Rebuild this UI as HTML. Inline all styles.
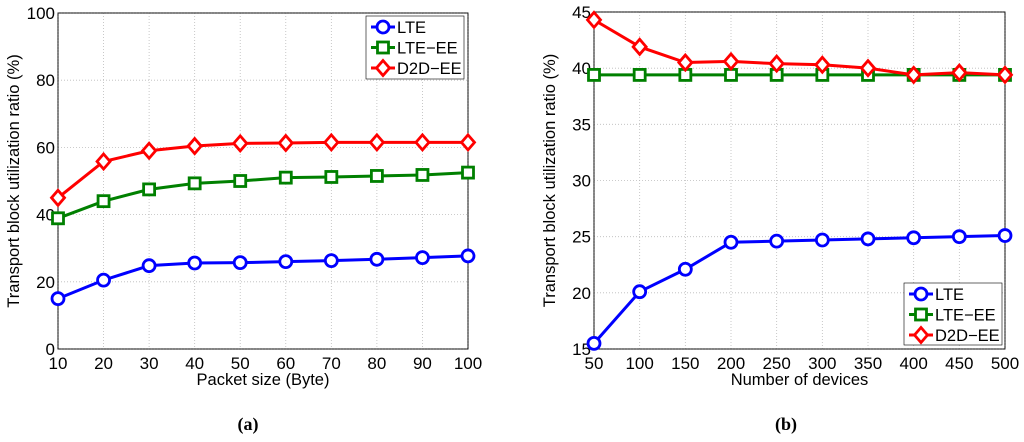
<!DOCTYPE html>
<html><head><meta charset="utf-8"><style>
body{margin:0;background:#fff;width:1024px;height:437px;overflow:hidden}
</style></head><body>
<svg id="s" width="1024" height="437" xmlns="http://www.w3.org/2000/svg" style="font-family:'Liberation Sans',sans-serif">
<text x="248" y="430" style="font-family:'Liberation Serif',serif;font-weight:bold;font-size:18px" text-anchor="middle">(a)</text>
<text x="786" y="430" style="font-family:'Liberation Serif',serif;font-weight:bold;font-size:18px" text-anchor="middle">(b)</text>
</svg>
<script>
const xA=[10,20,30,40,50,60,70,80,90,100];
const lteA=[15,20.5,24.8,25.6,25.7,26,26.3,26.7,27.2,27.7];
const lteeeA=[38.9,44,47.5,49.3,50,51,51.2,51.5,51.8,52.5];
const d2dA=[45,55.8,59,60.4,61.2,61.3,61.5,61.5,61.5,61.5];
const yTicksA=[0,20,40,60,80,100];
const xB=[50,100,150,200,250,300,350,400,450,500];
const lteB=[15.5,20.1,22.1,24.5,24.6,24.7,24.8,24.9,25.0,25.1];
const lteeeB=[39.4,39.4,39.4,39.4,39.4,39.4,39.4,39.4,39.4,39.4];
const d2dB=[44.3,41.9,40.5,40.6,40.4,40.3,40.0,39.4,39.6,39.4];
const yTicksB=[15,20,25,30,35,40,45];
const seriesNames=['LTE','LTE−EE','D2D−EE'];
const S=document.getElementById('s'),NS='http://www.w3.org/2000/svg';
function el(t,a,p){const e=document.createElementNS(NS,t);for(const k in a)e.setAttribute(k,a[k]);(p||S).appendChild(e);return e;}
const colors=['#0000ff','#008000','#ff0000'];
function marker(g,k,x,y){
 if(k===0)el('circle',{cx:x,cy:y,r:6,fill:'#fff',stroke:colors[0],'stroke-width':2.8},g);
 else if(k===1)el('rect',{x:x-5.5,y:y-5.5,width:11,height:11,fill:'#fff',stroke:colors[1],'stroke-width':2.8},g);
 else el('path',{d:`M${x} ${y-7.5}L${x+6.5} ${y}L${x} ${y+7.5}L${x-6.5} ${y}Z`,fill:'#fff',stroke:colors[2],'stroke-width':2.8},g);
}
function chart(id,L,R,T,B,xs,ymin,ymax,yt,series,xlabel,leg){
 const g=el('g',{});
 
 
 const X=v=>L+(v-xs[0])/(xs[xs.length-1]-xs[0])*(R-L);
 const Y=v=>B-(v-ymin)/(ymax-ymin)*(B-T);
 el('rect',{x:L,y:T,width:R-L,height:B-T,fill:'#fff',stroke:'#000','stroke-width':0.8},g);
 xs.forEach(v=>{const x=X(v);
  el('line',{x1:x,y1:T,x2:x,y2:B,stroke:'#bbb','stroke-dasharray':'1,2','stroke-width':0.8},g);
  const t=el('text',{x:x,y:B+20,'font-size':17,'text-anchor':'middle'},g);t.textContent=v;
  
  
 });
 yt.forEach(v=>{const y=Y(v);
  el('line',{x1:L,y1:y,x2:R,y2:y,stroke:'#bbb','stroke-dasharray':'1,2','stroke-width':0.8},g);
  const t=el('text',{x:L-3,y:y+6,'font-size':17,'text-anchor':'end'},g);t.textContent=v;
  
  
 });
 el('rect',{x:L,y:T,width:R-L,height:B-T,fill:'none',stroke:'#000','stroke-width':0.8},g);
 const xl=el('text',{x:(L+R)/2,y:B+36,'font-size':16.5,'text-anchor':'middle'},g);xl.textContent=xlabel;
 
 
 const yl=el('text',{x:0,y:0,'font-size':16.5,'text-anchor':'middle',transform:`translate(${L-39},${(T+B)/2}) rotate(-90)`},g);yl.textContent='Transport block utilization ratio (%)';
 
 
 series.forEach((d,k)=>{
  const p=el('polyline',{points:d.map((v,i)=>X(xs[i])+','+Y(v)).join(' '),fill:'none',stroke:colors[k],'stroke-width':3},g);
  
  
  d.forEach((v,i)=>marker(g,k,X(xs[i]),Y(v)));
 });
 const lg=el('g',{},g);
 
 
 el('rect',{x:leg[0],y:leg[1],width:leg[2],height:leg[3],fill:'#fff',stroke:'#000','stroke-width':0.6},lg);
 seriesNames.forEach((n,k)=>{const y=leg[1]+11+k*20.5;
  el('line',{x1:leg[0]+5,y1:y,x2:leg[0]+29,y2:y,stroke:colors[k],'stroke-width':3},lg);
  marker(lg,k,leg[0]+17,y);
  const t=el('text',{x:leg[0]+31,y:y+6,'font-size':16.5},lg);t.textContent=n;
  
  
 });
}
chart('chart-a',58,468,13,349,xA,0,100,yTicksA,[lteA,lteeeA,d2dA],'Packet size (Byte)',[366,16,98,63]);
chart('chart-b',594,1005,12,349,xB,15,45,yTicksB,[lteB,lteeeB,d2dB],'Number of devices',[904,283,98,62]);
</script>
</body></html>
